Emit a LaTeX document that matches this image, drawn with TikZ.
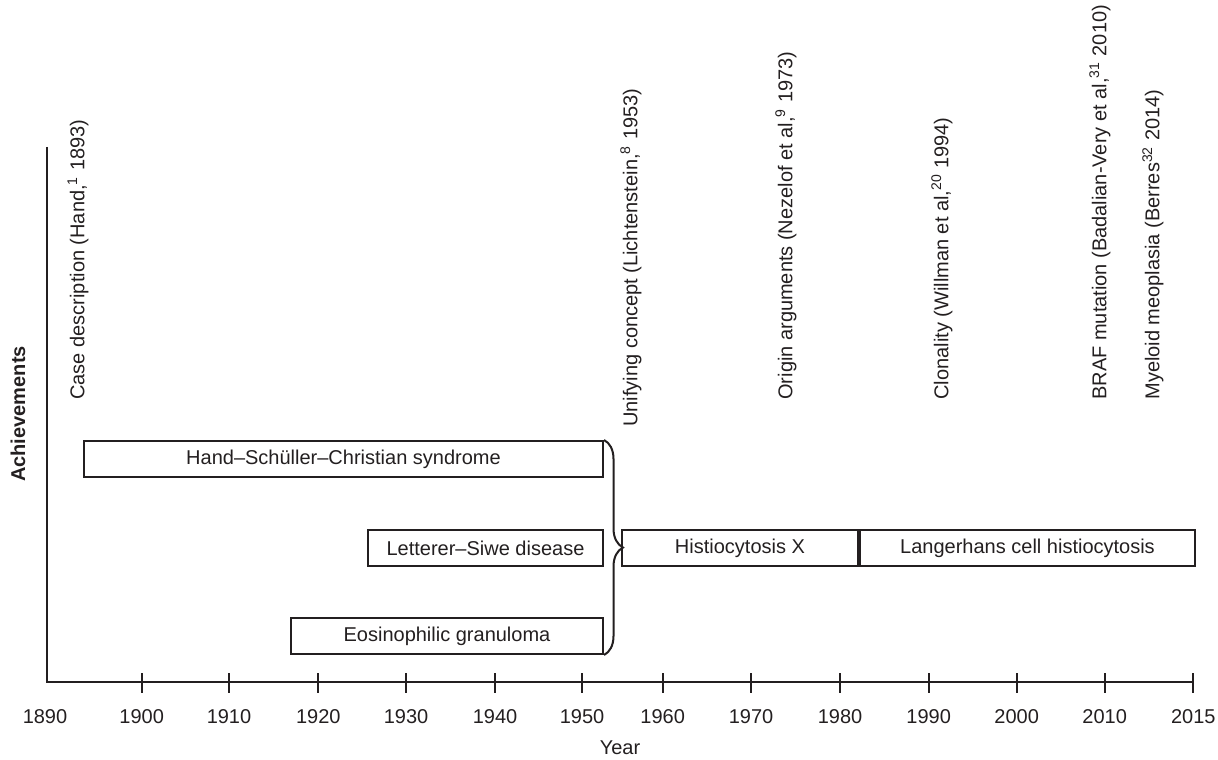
\documentclass[tikz,border=0pt]{standalone}
\usepackage{fontspec}
\setmainfont{Liberation Sans}
\usepackage{tikz}
\usetikzlibrary{decorations.pathreplacing}
\definecolor{ink}{RGB}{35,31,32}

\begin{document}
\begin{tikzpicture}[x=0.5pt, y=-0.5pt, color=ink, font=\fontsize{10}{12}\selectfont,
  period/.style={draw, line width=1pt, minimum height=18pt, inner sep=0pt},
  event/.style={rotate=90, anchor=west, inner sep=0pt}]
\useasboundingbox (0,0) rectangle (1218,759);
\draw[line width=1.1pt] (46.7,147) -- (46.7,682) -- (1193.3,682);
\foreach \x/\yr in {141.7/1900, 229/1910, 318.3/1920, 406/1930, 495/1940, 582/1950, 662.7/1960, 751/1970, 840/1980, 928.7/1990, 1016.7/2000, 1104.7/2010, 1193.3/2015} {
  \draw[line width=1.1pt] (\x,673) -- (\x,693);
  \node (y\yr) at (\x,717) {\yr};
}
\node (y1890) at (45,717) {1890};
\node (year) at (620,748) {Year};
\node[rotate=90, font=\fontsize{10}{12}\selectfont\bfseries] (ach) at (18,414) {Achievements};
\node[event] (hand) at (78,400) {Case description (Hand,\textsuperscript{1} 1893)};
\node[event] (lich) at (631,427) {Unifying concept (Lichtenstein,\textsuperscript{8} 1953)};
\node[event] (nez) at (786,400) {Origin arguments (Nezelof et al,\textsuperscript{9} 1973)};
\node[event] (will) at (942,400) {Clonality (Willman et al,\textsuperscript{20} 1994)};
\node[event] (braf) at (1100,400) {BRAF mutation (Badalian-Very et al,\textsuperscript{31} 2010)};
\node[event] (berres) at (1153,400) {Myeloid meoplasia (Berres\textsuperscript{32} 2014)};
\node[period, minimum width=259.5pt] (hsc) at (343.5,459) {Hand–Schüller–Christian syndrome};
\node[period, minimum width=117.5pt] (ls) at (485.5,548) {Letterer–Siwe disease};
\node[period, minimum width=156pt] (eos) at (447,636) {Eosinophilic granuloma};
\node[period, minimum width=118pt] (hx) at (740,548) {Histiocytosis X};
\node[period, minimum width=167.5pt, anchor=west] (lch) at (hx.east) {Langerhans cell histiocytosis};
\draw[line width=1pt, decorate, decoration={brace, amplitude=9.5pt}] (hsc.north east) -- (eos.south east);
\end{tikzpicture}
\end{document}
